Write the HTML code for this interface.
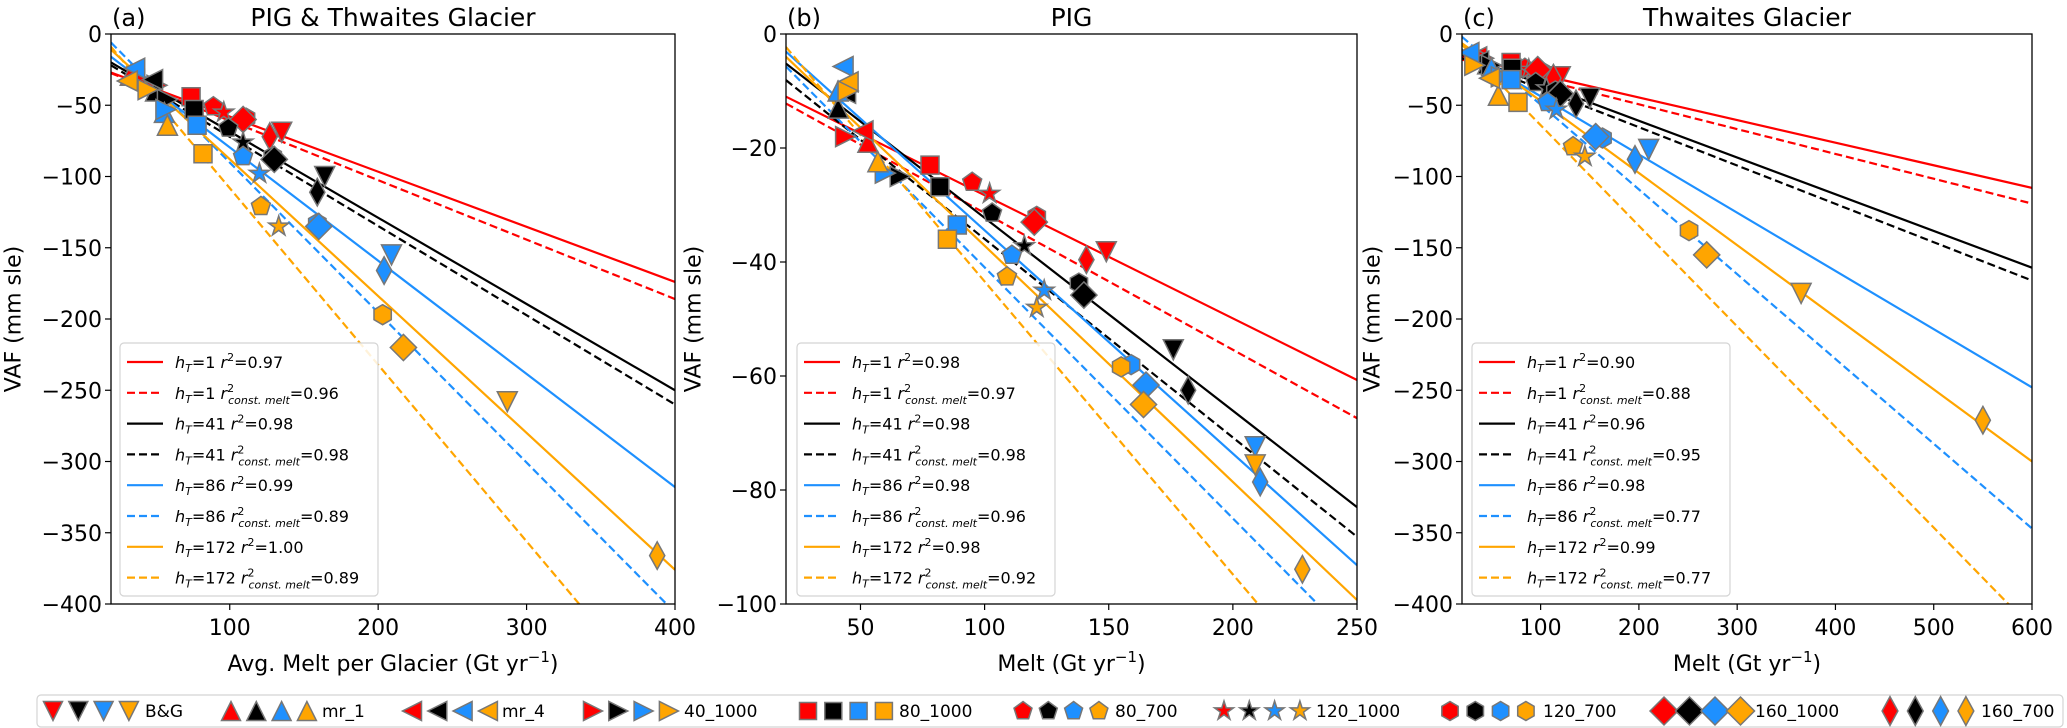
<!DOCTYPE html>
<html><head><meta charset="utf-8"><style>
html,body{margin:0;padding:0;background:#fff;}
svg{display:block;font-family:"DejaVu Sans","Liberation Sans",sans-serif;}
</style></head><body>
<svg id="fig" width="2067" height="728" viewBox="0 0 2067 728" xmlns="http://www.w3.org/2000/svg"></svg>
<script>
// ---- data ----
const scenarios = ['B&G','mr_1','mr_4','40_1000','80_1000','80_700','120_1000','120_700','160_1000','160_700'];
const markerTypes = ['v','^','<','>','s','p','*','h','D','d'];
const colors = ['#ff0000','#000000','#1e90ff','#ffa500'];
const hT = ['1','1','41','41','86','86','172','172'];

const aRedX = [135,33,36,51,74,89,96,111,109,127];
const aRedY = [-69,-29,-32,-36,-44,-51,-55,-59,-60,-72];
const aBlackX = [164,50,48,58,76,99,109,129,130,159];
const aBlackY = [-100,-40,-32,-46,-53,-66,-76,-86,-88,-111];
const aBlueX = [209,56,36,57,78,109,120,159,160,204];
const aBlueY = [-155,-55,-24,-53,-64,-86,-98,-133,-135,-166];
const aOrangeX = [287,58,31,45,82,121,133,203,217,388];
const aOrangeY = [-258,-64,-33,-39,-84,-121,-135,-197,-220,-366];

const bRedX = [149,53,51,44,78,95,102,121,120,141];
const bRedY = [-38.2,-19,-17,-18,-23,-26,-28,-32,-33,-39.6];
const bBlackX = [176,41,44,66,82,103,116,138,140,182];
const bBlackY = [-55.4,-13,-10.4,-25,-26.8,-31.4,-37.2,-43.7,-45.8,-62.5];
const bBlueX = [209,41,43,60,89,111,124,159,165,211];
const bBlueY = [-72.4,-10,-5.7,-24.4,-33.5,-38.8,-45,-58,-61.6,-78.6];
const bOrangeX = [209,57,45,45,85,109,121,155,164,228];
const bOrangeY = [-75.6,-22.4,-8.4,-10,-36,-42.6,-48,-58.4,-65,-93.9];

const cRedX = [120,97,35,42,70,84,88,100,97,113];
const cRedY = [-30,-24,-16,-17,-20,-24,-25,-26,-25,-31];
const cBlackX = [150,46,37,50,71,95,106,115,120,136];
const cBlackY = [-45,-21,-19,-22,-24,-34,-38,-40,-42,-49];
const cBlueX = [210,50,27,60,70,107,116,163,156,196];
const cBlueY = [-81,-24,-13,-30,-32,-48,-53,-73,-72,-88];
const cOrangeX = [365,57,48,33,77,133,145,251,269,550];
const cOrangeY = [-182,-43,-31,-22,-48,-79,-86,-138,-155,-271];

// fit lines: y at left x-limit and right x-limit (red, red--, black, black--, blue, blue--, orange, orange--)
const aFitStart = [-27,-27.5,-20,-22,-16,-6,-11,-9];
const aFitEnd = [-174,-186,-250,-260,-318,-406,-376,-480];
const bFitStart = [-11,-12.2,-5.2,-8.1,-3.1,-5.7,-4,-2.3];
const bFitEnd = [-60.7,-67.4,-83,-88.2,-93.2,-107,-99.3,-120.5];
const cFitStart = [-16,-18,-14.5,-17,-11,-2,-6.5,-7.5];
const cFitEnd = [-108,-119,-164,-173,-248,-347,-300,-417];

const aR2 = ['0.97','0.96','0.98','0.98','0.99','0.89','1.00','0.89'];
const bR2 = ['0.98','0.97','0.98','0.98','0.98','0.96','0.98','0.92'];
const cR2 = ['0.90','0.88','0.96','0.95','0.98','0.77','0.99','0.77'];

const aXTicks = [100,200,300,400];
const bXTicks = [50,100,150,200,250];
const cXTicks = [100,200,300,400,500,600];
const aYTicks = [0,-50,-100,-150,-200,-250,-300,-350,-400];
const bYTicks = [0,-20,-40,-60,-80,-100];
const cYTicks = [0,-50,-100,-150,-200,-250,-300,-350,-400];

// ---- drawing ----
const NS = 'http://www.w3.org/2000/svg';
const svg = document.getElementById('fig');
function el(tag, attrs, parent){
  const e = document.createElementNS(NS, tag);
  for (const k in attrs) e.setAttribute(k, attrs[k]);
  (parent||svg).appendChild(e);
  return e;
}
function markerPath(t, cx, cy, s){
  let pts=[];
  if (t==='v') pts=[[cx-s,cy-s],[cx+s,cy-s],[cx,cy+s]];
  else if (t==='^') pts=[[cx-s,cy+s],[cx+s,cy+s],[cx,cy-s]];
  else if (t==='<') pts=[[cx+s,cy-s],[cx+s,cy+s],[cx-s,cy]];
  else if (t==='>') pts=[[cx-s,cy-s],[cx-s,cy+s],[cx+s,cy]];
  else if (t==='s') {const h=s*0.9; pts=[[cx-h,cy-h],[cx+h,cy-h],[cx+h,cy+h],[cx-h,cy+h]];}
  else if (t==='p') {for(let i=0;i<5;i++){const a=-Math.PI/2+i*2*Math.PI/5; pts.push([cx+s*Math.cos(a),cy+s*Math.sin(a)]);}}
  else if (t==='h') {for(let i=0;i<6;i++){const a=-Math.PI/2+i*Math.PI/3; pts.push([cx+s*Math.cos(a),cy+s*Math.sin(a)]);}}
  else if (t==='*') {for(let i=0;i<10;i++){const a=-Math.PI/2+i*Math.PI/5; const r=i%2?s*0.4:s*1.05; pts.push([cx+r*Math.cos(a),cy+r*Math.sin(a)]);}}
  else if (t==='D') {const r=s*1.25; pts=[[cx,cy-r],[cx+r,cy],[cx,cy+r],[cx-r,cy]];}
  else if (t==='d') {const r=s*1.25; pts=[[cx,cy-r],[cx+r*0.55,cy],[cx,cy+r],[cx-r*0.55,cy]];}
  return pts.map(p=>p[0].toFixed(1)+','+p[1].toFixed(1)).join(' ');
}

const panels = [
  {id:'a', L:111, R:675, T:34, B:604, xmin:20, xmax:400, ymin:-400, ymax:0, letter:'(a)', title:'PIG  & Thwaites Glacier', xlabel:'Avg. Melt per Glacier (Gt yr', ylabelX:14,
   xs:[aRedX,aBlackX,aBlueX,aOrangeX], ys:[aRedY,aBlackY,aBlueY,aOrangeY], fs:aFitStart, fe:aFitEnd, r2:aR2, xt:aXTicks, yt:aYTicks, legL:120},
  {id:'b', L:786, R:1357, T:34, B:604, xmin:20, xmax:250, ymin:-100, ymax:0, letter:'(b)', title:'PIG', xlabel:'Melt (Gt yr', ylabelX:694,
   xs:[bRedX,bBlackX,bBlueX,bOrangeX], ys:[bRedY,bBlackY,bBlueY,bOrangeY], fs:bFitStart, fe:bFitEnd, r2:bR2, xt:bXTicks, yt:bYTicks, legL:797},
  {id:'c', L:1462, R:2032, T:34, B:604, xmin:20, xmax:600, ymin:-400, ymax:0, letter:'(c)', title:'Thwaites Glacier', xlabel:'Melt (Gt yr', ylabelX:1373,
   xs:[cRedX,cBlackX,cBlueX,cOrangeX], ys:[cRedY,cBlackY,cBlueY,cOrangeY], fs:cFitStart, fe:cFitEnd, r2:cR2, xt:cXTicks, yt:cYTicks, legL:1472}
];

panels.forEach(P=>{
  const X = v => P.L + (v-P.xmin)/(P.xmax-P.xmin)*(P.R-P.L);
  const Y = v => P.T + (P.ymax-v)/(P.ymax-P.ymin)*(P.B-P.T);
  const g = el('g',{});
  
  
  const defs = el('defs',{},g);
  const cp = el('clipPath',{id:'clip-'+P.id},defs);
  el('rect',{x:P.L,y:P.T,width:P.R-P.L,height:P.B-P.T},cp);

  const lg = el('g',{'clip-path':'url(#clip-'+P.id+')'},g);
  for(let i=0;i<8;i++){
    const ln = el('line',{x1:X(P.xmin),y1:Y(P.fs[i]),x2:X(P.xmax),y2:Y(P.fe[i]),stroke:colors[Math.floor(i/2)],'stroke-width':2.2,'stroke-dasharray':(i%2?'8,4':'none')},lg);
    
    
  }
  const mg = el('g',{'clip-path':'url(#clip-'+P.id+')'},g);
  for(let c=0;c<4;c++){
    for(let k=0;k<scenarios.length;k++){
      const s = (markerTypes[k]==='D')?10.5:(markerTypes[k]==='d'?11:10);
      const m = el('polygon',{points:markerPath(markerTypes[k],X(P.xs[c][k]),Y(P.ys[c][k]),s),fill:colors[c],stroke:'#777','stroke-width':1.5,'stroke-linejoin':'miter'},mg);
      
      
    }
  }
  const fr = el('rect',{x:P.L,y:P.T,width:P.R-P.L,height:P.B-P.T,fill:'none',stroke:'#000','stroke-width':1.3},g);
  
  
  P.xt.forEach(v=>{
    el('line',{x1:X(v),y1:P.B,x2:X(v),y2:P.B+6,stroke:'#000','stroke-width':1.2},g);
    const t = el('text',{x:X(v),y:635,'font-size':22,'text-anchor':'middle',fill:'#000'},g);
    t.textContent = String(v);
    
    
  });
  P.yt.forEach(v=>{
    el('line',{x1:P.L-6,y1:Y(v),x2:P.L,y2:Y(v),stroke:'#000','stroke-width':1.2},g);
    const t = el('text',{x:P.L-9,y:Y(v)+8,'font-size':22,'text-anchor':'end',fill:'#000'},g);
    t.textContent = v<0?('\u2212'+Math.abs(v)):String(v);
    
    
  });
  const lt = el('text',{x:P.L+1,y:26,'font-size':24,fill:'#000'},g);
  lt.textContent = P.letter;
  
  
  const tt = el('text',{x:(P.L+P.R)/2,y:26,'font-size':25,'text-anchor':'middle',fill:'#000'},g);
  tt.textContent = P.title;
  
  
  const xl = el('text',{x:(P.L+P.R)/2,y:671,'font-size':22,'text-anchor':'middle',fill:'#000'},g);
  xl.innerHTML = P.xlabel + '<tspan dy="-9" font-size="15">\u22121</tspan><tspan dy="9">)</tspan>';
  
  
  const yl = el('text',{x:P.ylabelX,y:(P.T+P.B)/2,'font-size':22,'text-anchor':'middle','dominant-baseline':'central',transform:'rotate(-90 '+P.ylabelX+' '+((P.T+P.B)/2)+')',fill:'#000'},g);
  yl.textContent = 'VAF (mm sle)';
  
  

  const lgd = el('g',{},g);
  
  
  el('rect',{x:P.legL,y:343,width:258,height:253,rx:4,fill:'#fff','fill-opacity':0.85,stroke:'#d4d4d4','stroke-width':1.2},lgd);
  for(let i=0;i<8;i++){
    const cy = 362 + i*30.8;
    el('line',{x1:P.legL+7,y1:cy,x2:P.legL+43,y2:cy,stroke:colors[Math.floor(i/2)],'stroke-width':2.2,'stroke-dasharray':(i%2?'8,4':'none')},lgd);
    const t = el('text',{x:P.legL+55,y:cy+6,'font-size':16,fill:'#000'},lgd);
    if(i%2===0){
      t.innerHTML = '<tspan font-style="italic">h</tspan><tspan font-style="italic" font-size="11" dy="4">T</tspan><tspan dy="-4">=' + hT[i] + ' </tspan><tspan font-style="italic">r</tspan><tspan font-size="11" dy="-7">2</tspan><tspan dy="7">=' + P.r2[i] + '</tspan>';
    } else {
      t.innerHTML = '<tspan font-style="italic">h</tspan><tspan font-style="italic" font-size="11" dy="4">T</tspan><tspan dy="-4">=' + hT[i] + ' </tspan><tspan font-style="italic">r</tspan><tspan font-size="11" dy="-7">2</tspan><tspan font-size="11" font-style="italic" dx="-6" dy="12">const. melt</tspan><tspan dy="-5">=' + P.r2[i] + '</tspan>';
    }
    
    
  }
});

const bl = el('g',{});


el('rect',{x:37,y:695,width:2026,height:32,rx:4,fill:'#fff',stroke:'#d4d4d4','stroke-width':1.2},bl);
const legMarkX = [53,231,412,593,808,1023,1224,1450,1664,1890];
const legTextX = [145,322,502,684,899,1115,1316,1543,1755,1981];
for(let k=0;k<scenarios.length;k++){
  const gap = markerTypes[k]==='D'?25.5:25.3;
  for(let c=0;c<4;c++){
    const s = markerTypes[k]==='D'?11.2:(markerTypes[k]==='d'?11.5:9.5);
    const m = el('polygon',{points:markerPath(markerTypes[k],legMarkX[k]+c*gap,711,s),fill:colors[c],stroke:'#777','stroke-width':1.5},bl);
    
    
  }
  const t = el('text',{x:legTextX[k],y:717,'font-size':17,fill:'#000'},bl);
  t.textContent = scenarios[k];
  
  
}
</script>
</body></html>
